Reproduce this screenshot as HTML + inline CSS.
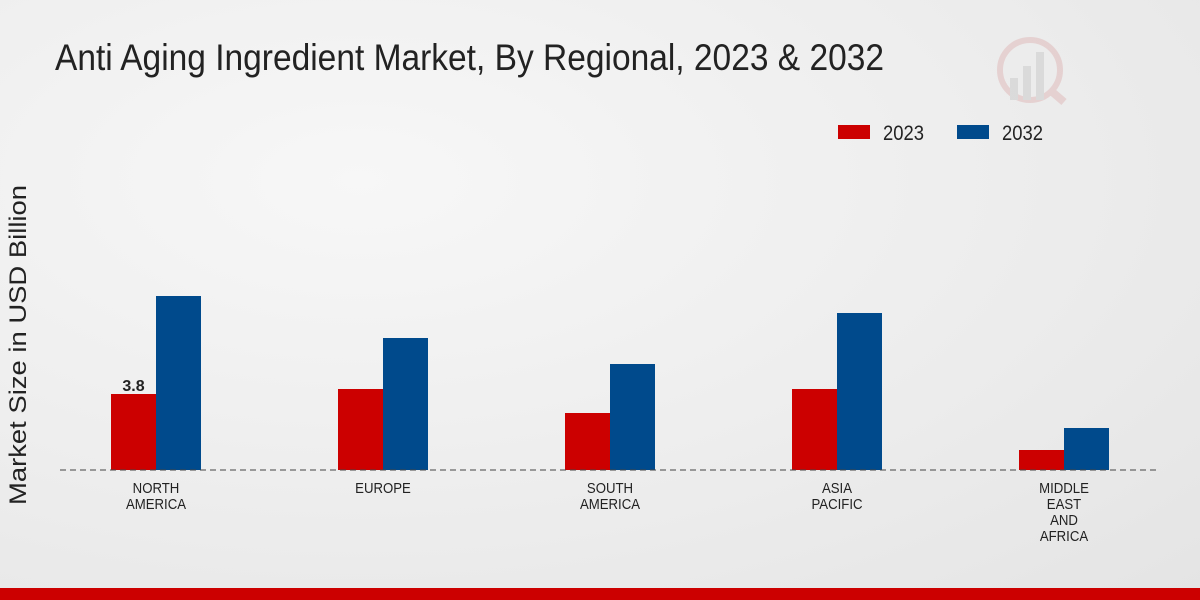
<!DOCTYPE html>
<html><head><meta charset="utf-8"><style>
html,body{margin:0;padding:0;width:1200px;height:600px;overflow:hidden}
body{background:radial-gradient(ellipse at 30% 30%,#f7f7f7 0%,#ececec 60%,#e4e4e4 100%);font-family:"Liberation Sans",sans-serif}
</style></head><body>
<svg id="chart" width="1200" height="600" xmlns="http://www.w3.org/2000/svg">
<text x="55" y="70" font-size="37" fill="#222" textLength="829" lengthAdjust="spacingAndGlyphs" font-family="Liberation Sans, sans-serif">Anti Aging Ingredient Market, By Regional, 2023 &amp; 2032</text>
<g opacity="0.35">
<circle cx="1030" cy="70" r="30" fill="none" stroke="#d9a0a0" stroke-width="6"/>
<rect x="1010" y="78" width="8" height="22" fill="#bbb"/><rect x="1023" y="66" width="8" height="34" fill="#bbb"/><rect x="1036" y="52" width="8" height="48" fill="#bbb"/>
<line x1="1050" y1="90" x2="1064" y2="102" stroke="#d9a0a0" stroke-width="8"/>
</g>
<g>
<rect x="838" y="125" width="32" height="14" fill="#cc0000"/>
<text x="883" y="140" font-size="21" fill="#222" textLength="41" lengthAdjust="spacingAndGlyphs">2023</text>
<rect x="957" y="125" width="32" height="14" fill="#004a8c"/>
<text x="1002" y="140" font-size="21" fill="#222" textLength="41" lengthAdjust="spacingAndGlyphs">2032</text>
</g>
<text transform="translate(26,345) rotate(-90)" text-anchor="middle" font-size="24" fill="#222" textLength="320" lengthAdjust="spacingAndGlyphs">Market Size in USD Billion</text>
<g id="bars"></g>
<line x1="60" y1="470" x2="1160" y2="470" stroke="#444" stroke-dasharray="6,4" stroke-width="1"/>
<g id="xlabels"></g>
<rect x="0" y="588" width="1200" height="12" fill="#cc0000"/>
</svg>
<script>
const categories=[["NORTH","AMERICA"],["EUROPE"],["SOUTH","AMERICA"],["ASIA","PACIFIC"],["MIDDLE","EAST","AND","AFRICA"]];
const values2023=[3.8,4.05,2.85,4.05,1.0];
const values2032=[8.7,6.6,5.3,7.85,2.1];
const labeled2023=["3.8",null,null,null,null];
const NS="http://www.w3.org/2000/svg";
const base=470,scale=20,x0=156,step=227,bw=45;
const yPos=v=>base-v*scale;
const xC=i=>x0+i*step;
const bars=document.getElementById('bars'),xl=document.getElementById('xlabels');
function mk(t,a){const e=document.createElementNS(NS,t);for(const k in a)e.setAttribute(k,a[k]);return e;}
categories.forEach((c,i)=>{
  const r1=mk('rect',{x:xC(i)-bw,y:yPos(values2023[i]),width:bw,height:values2023[i]*scale,fill:'#cc0000'});
  
  
  bars.appendChild(r1);
  const r2=mk('rect',{x:xC(i),y:yPos(values2032[i]),width:bw,height:values2032[i]*scale,fill:'#004a8c'});
  
  
  bars.appendChild(r2);
  if(labeled2023[i]){
    const t=mk('text',{x:xC(i)-bw/2,y:yPos(values2023[i])-3,'text-anchor':'middle','font-size':'16','font-weight':'bold',fill:'#222'});
    t.textContent=labeled2023[i];
    
    
    bars.appendChild(t);
  }
  c.forEach((line,j)=>{
    const t=mk('text',{x:xC(i),y:493+j*16,'text-anchor':'middle','font-size':'15',fill:'#222',transform:'translate('+xC(i)+',0) scale(0.88,1) translate('+(-xC(i))+',0)'});
    t.textContent=line;
    
    
    xl.appendChild(t);
  });
});
</script>
</body></html>
